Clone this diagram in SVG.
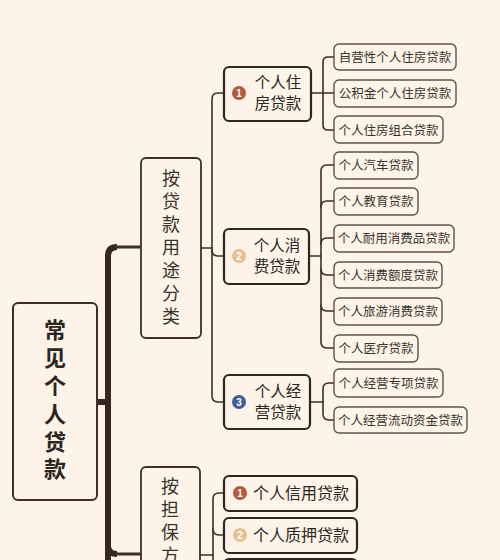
<svg xmlns="http://www.w3.org/2000/svg" width="500" height="560" viewBox="0 0 500 560">
<style>
.bg{fill:#fdf3e8}
.root{fill:#fdf3e8;stroke:#3b2f27;stroke-width:2}
.l1{fill:#fdf3e8;stroke:#3b2f27;stroke-width:1.8}
.l2{fill:#fdf3e8;stroke:#2f2620;stroke-width:2.2}
.leaf{fill:#fdf3e8;stroke:#5e5248;stroke-width:1.4}
.c{fill:none;stroke:#3b2f27;stroke-width:1.6;stroke-linecap:round}
.trunk{fill:none;stroke:#33271f;stroke-width:6}
.t{font-family:"Noto Sans CJK SC","Noto Sans",sans-serif;fill:#2b2622}
.v{writing-mode:vertical-rl;text-orientation:upright}
.rt{font-size:22px;font-weight:bold;letter-spacing:5.8px}
.t1{font-size:18px;fill:#3a332d;letter-spacing:5px}
.t2{font-size:15.5px;text-anchor:middle}
.t3{font-size:12.5px;text-anchor:middle;fill:#3a332d}
.bn{font-family:"Liberation Sans",sans-serif;font-size:10px;font-weight:bold;fill:#fff;text-anchor:middle}
</style>
<rect class="bg" x="0" y="0" width="500" height="560"/>

<g id="connectors">
  <path class="trunk" d="M97 402 H108"/>
  <path class="trunk" d="M108 568 V256 Q108 247 117 247"/>
  <path class="c" style="stroke-width:3" d="M116 247 H141"/>
  <path class="trunk" d="M108 540 V546 Q108 554 117 554"/>
  <path class="c" style="stroke-width:3" d="M116 554 H141"/>
  <path class="c" d="M201 248 H212"/>
  <path class="c" d="M224 93 H218 Q212 93 212 99 V396 Q212 402 218 402 H224"/>
  <path class="c" d="M212 250 Q212 256 218 256 H224"/>
  <path class="c" d="M311 93 H334"/>
  <path class="c" d="M334 57 H328 Q323 57 323 62 V125 Q323 130 328 130 H334"/>
  <path class="c" d="M309 256 H321"/>
  <path class="c" d="M334 165 H327 Q321 165 321 171 V342 Q321 348 327 348 H334"/>
  <path class="c" d="M321 207 Q321 201 327 201 H334"/>
  <path class="c" d="M321 244 Q321 238 327 238 H334"/>
  <path class="c" d="M321 269 Q321 275 327 275 H334"/>
  <path class="c" d="M321 305 Q321 311 327 311 H334"/>
  <path class="c" d="M310 402 H323"/>
  <path class="c" d="M334 383 H329 Q323 383 323 389 V414 Q323 420 329 420 H334"/>
  <path class="c" d="M200 555 H213"/>
  <path class="c" d="M224 493 H219 Q213 493 213 499 V570"/>
  <path class="c" d="M213 529 Q213 535 219 535 H224"/>
</g>

<g id="root">
  <rect class="root" x="13" y="303" width="84" height="197" rx="5"/>
  <text class="t v rt" x="55" y="319">常见个人贷款</text>
</g>

<g id="by-purpose">
  <rect class="l1" x="141" y="158" width="60" height="180" rx="5"/>
  <text class="t v t1" x="171" y="169">按贷款用途分类</text>
</g>

<g id="by-guarantee">
  <rect class="l1" x="141" y="467" width="59" height="180" rx="5"/>
  <text class="t v t1" x="170" y="477">按担保方</text>
</g>

<g id="housing">
  <rect class="l2" x="224" y="67" width="87" height="54" rx="5"/>
  <circle cx="239" cy="93" r="7" fill="#b5573a"/>
  <text class="bn" x="239" y="96.5">1</text>
  <text class="t t2" x="278" y="88">个人住</text>
  <text class="t t2" x="278" y="109">房贷款</text>
</g>
<g id="consumer">
  <rect class="l2" x="224" y="229" width="85" height="55" rx="5"/>
  <circle cx="239" cy="256" r="7" fill="#e6bf8e"/>
  <text class="bn" x="239" y="259.5">2</text>
  <text class="t t2" x="277" y="251">个人消</text>
  <text class="t t2" x="277" y="272">费贷款</text>
</g>
<g id="business">
  <rect class="l2" x="224" y="375" width="86" height="54" rx="5"/>
  <circle cx="239" cy="402" r="7" fill="#3d5e9c"/>
  <text class="bn" x="239" y="405.5">3</text>
  <text class="t t2" x="278" y="397">个人经</text>
  <text class="t t2" x="278" y="418">营贷款</text>
</g>

<g id="leaf-1"><rect class="leaf" x="334" y="44" width="122" height="26" rx="5"/><text class="t t3" x="395" y="61.5">自营性个人住房贷款</text></g>
<g id="leaf-2"><rect class="leaf" x="334" y="80" width="122" height="27" rx="5"/><text class="t t3" x="395" y="98">公积金个人住房贷款</text></g>
<g id="leaf-3"><rect class="leaf" x="334" y="116" width="109" height="27" rx="5"/><text class="t t3" x="388.5" y="134.5">个人住房组合贷款</text></g>

<g id="leaf-4"><rect class="leaf" x="334" y="152" width="84" height="27" rx="5"/><text class="t t3" x="376" y="170">个人汽车贷款</text></g>
<g id="leaf-5"><rect class="leaf" x="334" y="188" width="84" height="27" rx="5"/><text class="t t3" x="376" y="206">个人教育贷款</text></g>
<g id="leaf-6"><rect class="leaf" x="334" y="225" width="120" height="27" rx="5"/><text class="t t3" x="394" y="243">个人耐用消费品贷款</text></g>
<g id="leaf-7"><rect class="leaf" x="334" y="262" width="108" height="26" rx="5"/><text class="t t3" x="388" y="279.5">个人消费额度贷款</text></g>
<g id="leaf-8"><rect class="leaf" x="334" y="298" width="108" height="27" rx="5"/><text class="t t3" x="388" y="316">个人旅游消费贷款</text></g>
<g id="leaf-9"><rect class="leaf" x="334" y="335" width="84" height="27" rx="5"/><text class="t t3" x="376" y="353">个人医疗贷款</text></g>

<g id="leaf-10"><rect class="leaf" x="334" y="369" width="109" height="28" rx="5"/><text class="t t3" x="388.5" y="387.5">个人经营专项贷款</text></g>
<g id="leaf-11"><rect class="leaf" x="334" y="407" width="133" height="26" rx="5"/><text class="t t3" x="400.5" y="424.5">个人经营流动资金贷款</text></g>

<g id="credit">
  <rect class="l2" x="224" y="476" width="133" height="35" rx="5"/>
  <circle cx="240" cy="493" r="7" fill="#b5573a"/>
  <text class="bn" x="240" y="496.5">1</text>
  <text class="t t2" style="font-size:16px" x="301" y="499">个人信用贷款</text>
</g>
<g id="pledge">
  <rect class="l2" x="224" y="518" width="133" height="35" rx="5"/>
  <circle cx="240" cy="535" r="7" fill="#e6bf8e"/>
  <text class="bn" x="240" y="538.5">2</text>
  <text class="t t2" style="font-size:16px" x="301" y="541">个人质押贷款</text>
</g>
<g id="third">
  <rect class="l2" x="224" y="559" width="133" height="35" rx="5"/>
</g>
</svg>
